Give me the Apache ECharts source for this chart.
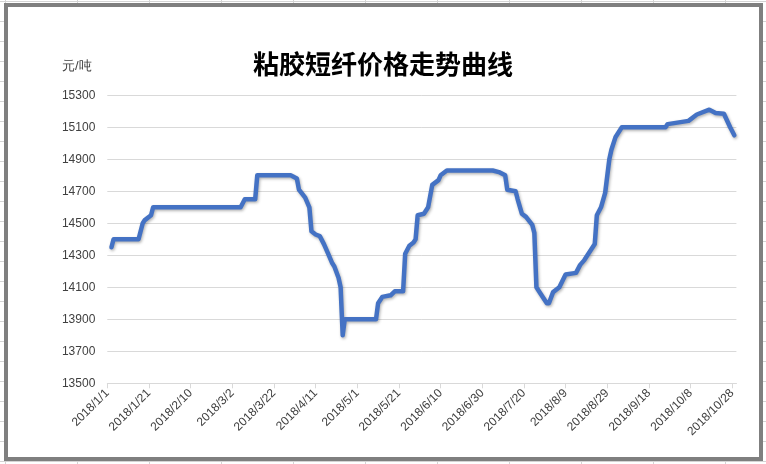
<!DOCTYPE html>
<html>
<head>
<meta charset="utf-8">
<script src="https://cdn.jsdelivr.net/npm/echarts@6/dist/echarts.min.js"></script>
<style>
html,body{margin:0;padding:0;width:766px;height:464px;overflow:hidden;background:#fff;}
body{background-image:linear-gradient(to right,#d4d4d4 1px,transparent 1px),linear-gradient(to bottom,#d4d4d4 1px,transparent 1px);background-size:72px 20px;background-position:5px 1px;}
#frame{position:absolute;left:4px;top:3px;width:751px;height:450px;border:4px solid #7f7f7f;background:#fff;}
#chart{position:absolute;left:0;top:0;width:766px;height:464px;}
</style>
</head>
<body>
<div id="frame"></div>
<div id="chart"></div>
<script>
// ---- data ----
const titleText = '粘胶短纤价格走势曲线';
const unitText = '元/吨';
const startDate = '2018/1/1';
const dates = [
  '2018/1/3','2018/1/4','2018/1/16','2018/1/17','2018/1/18','2018/1/19','2018/1/22','2018/1/23',
  '2018/3/6','2018/3/8','2018/3/13','2018/3/14','2018/3/30','2018/4/2','2018/4/3','2018/4/6',
  '2018/4/8','2018/4/9','2018/4/11','2018/4/13','2018/4/15','2018/4/17','2018/4/19','2018/4/20',
  '2018/4/22','2018/4/23','2018/4/24','2018/4/25','2018/5/10','2018/5/11','2018/5/13','2018/5/17',
  '2018/5/19','2018/5/23','2018/5/24','2018/5/26','2018/5/28','2018/5/29','2018/5/30','2018/6/2',
  '2018/6/4','2018/6/6','2018/6/9','2018/6/10','2018/6/13','2018/7/5','2018/7/8','2018/7/11',
  '2018/7/12','2018/7/16','2018/7/17','2018/7/19','2018/7/21','2018/7/24','2018/7/25','2018/7/26',
  '2018/7/28','2018/7/31','2018/8/1','2018/8/3','2018/8/6','2018/8/9','2018/8/14','2018/8/16',
  '2018/8/18','2018/8/23','2018/8/24','2018/8/26','2018/8/28','2018/8/30','2018/8/31','2018/9/2',
  '2018/9/3','2018/9/5','2018/9/26','2018/9/27','2018/10/7','2018/10/11','2018/10/17','2018/10/20',
  '2018/10/24','2018/10/27','2018/10/29'
];
const prices = [
  14350,14400,14400,14450,14500,14520,14550,14600,
  14600,14650,14650,14800,14800,14780,14710,14660,
  14600,14450,14430,14420,14370,14310,14250,14230,
  14160,14100,13800,13900,13900,14000,14040,14050,
  14075,14075,14310,14360,14380,14400,14550,14560,
  14600,14740,14770,14800,14830,14830,14820,14800,
  14710,14700,14650,14560,14540,14490,14440,14100,
  14060,14000,14000,14070,14100,14180,14190,14240,
  14270,14370,14550,14600,14690,14900,14960,15040,
  15060,15100,15100,15120,15140,15180,15210,15190,
  15185,15100,15050
];
const yMin = 13500, yMax = 15300, yStep = 200;
const xTickDays = 20;   // label every 20 days
const xEndDay = 302;    // axis end (days after start)

// ---- helpers ----
const DAY = 86400000;
function toUTC(s){ const p = s.split('/').map(Number); return Date.UTC(p[0], p[1]-1, p[2]); }
const t0 = toUTC(startDate);
function dayIndex(s){ return Math.round((toUTC(s) - t0) / DAY); }
function dayLabel(v){
  const d = new Date(t0 + v * DAY);
  return d.getUTCFullYear() + '/' + (d.getUTCMonth()+1) + '/' + d.getUTCDate();
}
const seriesData = dates.map((d, i) => [dayIndex(d), prices[i]]);

const chart = echarts.init(document.getElementById('chart'), null, {renderer:'canvas'});
chart.setOption({
  backgroundColor: 'transparent',
  animation: false,
  title: {
    text: titleText, left: 'center', top: 46,
    textStyle: {fontSize: 26, fontWeight: 'bold', color: '#000', fontFamily: '"Noto Sans CJK SC", sans-serif'}
  },
  graphic: [{
    type: 'text', left: 62, top: 60,
    style: {text: unitText, fontSize: 13, fill: '#404040', font: '13px "Noto Sans CJK SC", sans-serif'}
  }],
  grid: {left: 107.3, right: 29.6, top: 95.3, bottom: 80.7, containLabel: false},
  xAxis: {
    type: 'value', min: 0, max: xEndDay, interval: xTickDays,
    axisLine: {show: true, lineStyle: {color: '#d9d9d9', width: 1}},
    axisTick: {show: true, length: 5, lineStyle: {color: '#d9d9d9'}},
    splitLine: {show: false},
    axisLabel: {
      rotate: 45, margin: 8, fontSize: 12, color: '#404040', fontFamily: '"Liberation Sans", Arial, sans-serif',
      showMaxLabel: false,
      formatter: v => (v % xTickDays === 0 ? dayLabel(v) : '')
    }
  },
  yAxis: {
    type: 'value', min: yMin, max: yMax, interval: yStep,
    axisLine: {show: false}, axisTick: {show: false},
    splitLine: {lineStyle: {color: '#d9d9d9', width: 1}},
    axisLabel: {margin: 12, fontSize: 12, color: '#404040', fontFamily: '"Liberation Sans", Arial, sans-serif',
      formatter: v => String(v)}
  },
  series: [{
    type: 'line', data: seriesData, symbol: 'none', smooth: false,
    lineStyle: {color: '#4472c4', width: 4.5, join: 'round', cap: 'round',
      shadowColor: 'rgba(0,0,0,0.3)', shadowBlur: 3, shadowOffsetX: 1, shadowOffsetY: 1.5}
  }]
});
</script>
</body>
</html>
